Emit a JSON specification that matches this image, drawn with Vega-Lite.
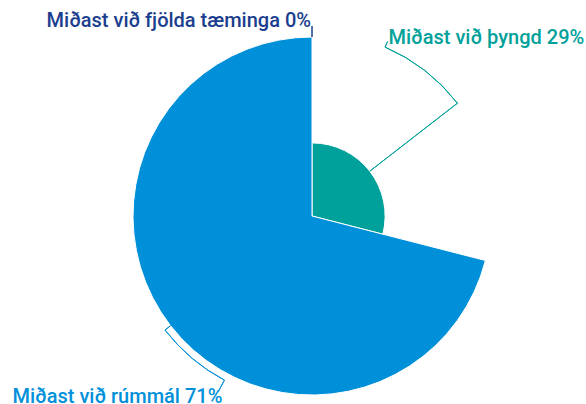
{
  "$schema": "https://vega.github.io/schema/vega-lite/v6.json",
  "width": 548,
  "height": 376,
  "padding": {"left": 38, "top": 28, "right": 0, "bottom": 0},
  "autosize": {"type": "none"},
  "background": "white",
  "config": {"view": {"stroke": null}},
  "datasets": {
    "shares": [
      {"cat": "Miðast við fjölda tæminga", "value": 0, "order": 0},
      {"cat": "Miðast við þyngd", "value": 29, "order": 1},
      {"cat": "Miðast við rúmmál", "value": 71, "order": 2}
    ],
    "leaders": [
      {"cat": "Miðast við fjölda tæminga", "label": "Miðast við fjölda tæminga 0%", "mid": 0, "end": 0, "r0": 71, "r1": 75.4, "r2": 75.4},
      {"cat": "Miðast við þyngd", "label": "Miðast við þyngd 29%", "mid": 14.5, "end": 6.5, "r0": 29, "r1": 73, "r2": 75.4},
      {"cat": "Miðast við rúmmál", "label": "Miðast við rúmmál 71%", "mid": 64.5, "end": 57.8, "r0": 71, "r1": 73.8, "r2": 78.9}
    ]
  },
  "layer": [
    {
      "data": {"name": "shares"},
      "mark": {"type": "arc", "stroke": "white", "strokeWidth": 1},
      "encoding": {
        "theta": {"field": "value", "type": "quantitative", "stack": true, "scale": {"domain": [0, 100]}},
        "radius": {"field": "value", "type": "quantitative", "scale": {"type": "linear", "domain": [0, 71], "range": [0, 179], "zero": true}},
        "order": {"field": "order"},
        "color": {"field": "cat", "type": "nominal", "scale": {"domain": ["Miðast við fjölda tæminga", "Miðast við þyngd", "Miðast við rúmmál"], "range": ["#1B3E8E", "#00A19A", "#0090DA"]}, "legend": null}
      }
    },
    {
      "data": {"name": "leaders"},
      "mark": {"type": "arc", "filled": false, "strokeWidth": 1},
      "encoding": {
        "theta": {"field": "mid", "type": "quantitative", "stack": null, "scale": {"domain": [0, 100]}},
        "theta2": {"field": "mid"},
        "radius": {"field": "r1", "type": "quantitative", "scale": {"type": "linear", "domain": [0, 71], "range": [0, 179], "zero": true}},
        "radius2": {"field": "r0"},
        "color": {"field": "cat", "type": "nominal", "legend": null}
      }
    },
    {
      "data": {"name": "leaders"},
      "mark": {"type": "arc", "filled": false, "strokeWidth": 1},
      "encoding": {
        "theta": {"field": "end", "type": "quantitative", "stack": null, "scale": {"domain": [0, 100]}},
        "theta2": {"field": "mid"},
        "radius": {"field": "r1", "type": "quantitative", "scale": {"type": "linear", "domain": [0, 71], "range": [0, 179], "zero": true}},
        "radius2": {"field": "r1"},
        "color": {"field": "cat", "type": "nominal", "legend": null}
      }
    },
    {
      "data": {"name": "leaders"},
      "mark": {"type": "arc", "filled": false, "strokeWidth": 1},
      "encoding": {
        "theta": {"field": "end", "type": "quantitative", "stack": null, "scale": {"domain": [0, 100]}},
        "theta2": {"field": "end"},
        "radius": {"field": "r2", "type": "quantitative", "scale": {"type": "linear", "domain": [0, 71], "range": [0, 179], "zero": true}},
        "radius2": {"field": "r1"},
        "color": {"field": "cat", "type": "nominal", "legend": null}
      }
    },
    {
      "data": {"name": "leaders"},
      "transform": [{"filter": "datum.cat === 'Miðast við þyngd'"}],
      "mark": {"type": "text", "align": "left", "baseline": "alphabetic", "dx": 1, "dy": 2, "font": "Roboto", "fontSize": 20, "fontWeight": 500},
      "encoding": {
        "theta": {"field": "end", "type": "quantitative", "stack": null, "scale": {"domain": [0, 100]}},
        "radius": {"field": "r2", "type": "quantitative", "scale": {"type": "linear", "domain": [0, 71], "range": [0, 179], "zero": true}},
        "text": {"field": "label"},
        "color": {"field": "cat", "type": "nominal", "legend": null}
      }
    },
    {
      "data": {"name": "leaders"},
      "transform": [{"filter": "datum.cat === 'Miðast við fjölda tæminga'"}],
      "mark": {"type": "text", "align": "right", "baseline": "alphabetic", "dx": -1, "dy": 1, "font": "Roboto", "fontSize": 20, "fontWeight": 500},
      "encoding": {
        "theta": {"field": "end", "type": "quantitative", "stack": null, "scale": {"domain": [0, 100]}},
        "radius": {"field": "r2", "type": "quantitative", "scale": {"type": "linear", "domain": [0, 71], "range": [0, 179], "zero": true}},
        "text": {"field": "label"},
        "color": {"field": "cat", "type": "nominal", "legend": null}
      }
    },
    {
      "data": {"name": "leaders"},
      "transform": [{"filter": "datum.cat === 'Miðast við rúmmál'"}],
      "mark": {"type": "text", "align": "right", "baseline": "alphabetic", "dx": 4, "dy": 11, "font": "Roboto", "fontSize": 20, "fontWeight": 500},
      "encoding": {
        "theta": {"field": "end", "type": "quantitative", "stack": null, "scale": {"domain": [0, 100]}},
        "radius": {"field": "r2", "type": "quantitative", "scale": {"type": "linear", "domain": [0, 71], "range": [0, 179], "zero": true}},
        "text": {"field": "label"},
        "color": {"field": "cat", "type": "nominal", "legend": null}
      }
    }
  ]
}
